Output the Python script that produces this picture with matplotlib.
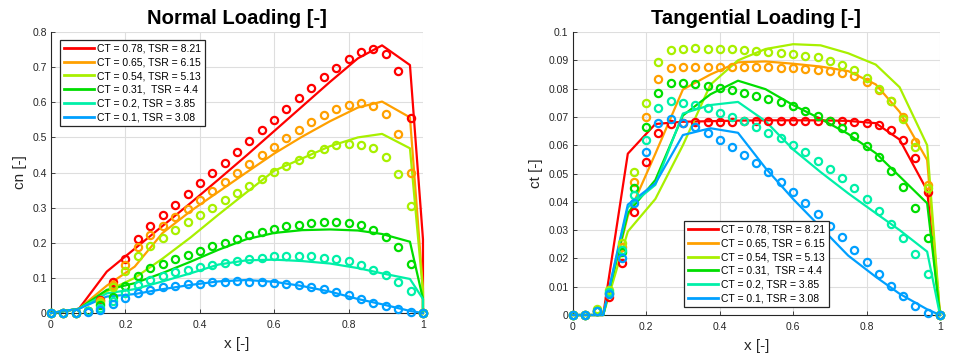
import matplotlib
matplotlib.use("Agg")
import matplotlib.pyplot as plt
from matplotlib.lines import Line2D

plt.rcParams['font.family'] = ['Liberation Sans', 'DejaVu Sans']

labels = ["CT = 0.78, TSR = 8.21", "CT = 0.65, TSR = 6.15", "CT = 0.54, TSR = 5.13",
          "CT = 0.31,  TSR = 4.4", "CT = 0.2, TSR = 3.85", "CT = 0.1, TSR = 3.08"]
colors = ["#ff0000", "#ffa000", "#a8f000", "#00dd00", "#00f0a8", "#00a0ff"]

# measured stations
x_pts = [0, 0.033, 0.067, 0.1, 0.133, 0.167, 0.2, 0.233, 0.267, 0.3, 0.333, 0.367, 0.4,
         0.433, 0.467, 0.5, 0.533, 0.567, 0.6, 0.633, 0.667, 0.7, 0.733, 0.767, 0.8,
         0.833, 0.867, 0.9, 0.933, 0.967, 1.0]

cn_pts = [
    [0, 0, 0, 0.005, 0.038, 0.087, 0.154, 0.21, 0.249, 0.28, 0.309, 0.339, 0.369, 0.398, 0.428,
     0.458, 0.489, 0.52, 0.55, 0.581, 0.612, 0.642, 0.672, 0.699, 0.724, 0.743, 0.751, 0.738,
     0.688, 0.555, 0],
    [0, 0, 0, 0.005, 0.033, 0.081, 0.136, 0.188, 0.222, 0.249, 0.273, 0.297, 0.323, 0.348, 0.374,
     0.399, 0.423, 0.449, 0.474, 0.498, 0.522, 0.543, 0.563, 0.581, 0.592, 0.597, 0.59, 0.567,
     0.51, 0.399, 0],
    [0, 0, 0, 0.005, 0.028, 0.073, 0.119, 0.163, 0.192, 0.215, 0.237, 0.258, 0.279, 0.299, 0.321,
     0.341, 0.361, 0.382, 0.402, 0.42, 0.437, 0.454, 0.467, 0.477, 0.482, 0.479, 0.469, 0.443,
     0.396, 0.304, 0],
    [0, 0, 0, 0.005, 0.024, 0.045, 0.078, 0.106, 0.127, 0.139, 0.153, 0.165, 0.178, 0.19, 0.2,
     0.212, 0.222, 0.232, 0.24, 0.247, 0.252, 0.256, 0.259, 0.259, 0.256, 0.25, 0.237, 0.216,
     0.188, 0.139, 0],
    [0, 0, 0, 0.005, 0.014, 0.035, 0.057, 0.081, 0.095, 0.106, 0.116, 0.123, 0.131, 0.137, 0.143,
     0.149, 0.155, 0.158, 0.161, 0.163, 0.163, 0.162, 0.158, 0.155, 0.147, 0.136, 0.123, 0.108,
     0.088, 0.062, 0],
    [0, 0, 0, 0.003, 0.009, 0.027, 0.043, 0.057, 0.066, 0.074, 0.078, 0.082, 0.084, 0.087, 0.089,
     0.09, 0.089, 0.088, 0.086, 0.083, 0.08, 0.075, 0.068, 0.061, 0.051, 0.041, 0.03, 0.021,
     0.011, 0.004, 0],
]

ct_pts = [
    [0, 0, 0.0015, 0.0062, 0.0183, 0.0365, 0.054, 0.0644, 0.0675, 0.068, 0.0683, 0.0683, 0.0683,
     0.0683, 0.0685, 0.0685, 0.0685, 0.0685, 0.0685, 0.0686, 0.0686, 0.0685, 0.0684, 0.0683,
     0.068, 0.067, 0.0653, 0.0617, 0.0555, 0.0435, 0],
    [0, 0, 0.0015, 0.0075, 0.0240, 0.047, 0.070, 0.0833, 0.0872, 0.0877, 0.0878, 0.0878, 0.0878,
     0.0877, 0.0877, 0.0876, 0.0875, 0.0874, 0.0872, 0.087, 0.0866, 0.0861, 0.0855, 0.0845,
     0.0822, 0.0795, 0.0755, 0.070, 0.061, 0.046, 0],
    [0, 0, 0.002, 0.009, 0.0254, 0.0506, 0.075, 0.0894, 0.0935, 0.0941, 0.0942, 0.0941, 0.094,
     0.094, 0.0935, 0.0933, 0.093, 0.0927, 0.0924, 0.0917, 0.091, 0.0898, 0.0885, 0.0865,
     0.0839, 0.080, 0.0757, 0.0691, 0.0595, 0.045, 0],
    [0, 0, 0.0015, 0.0078, 0.0224, 0.0448, 0.0665, 0.0785, 0.082, 0.0821, 0.0815, 0.0808, 0.0803,
     0.0794, 0.0785, 0.0774, 0.0765, 0.0753, 0.0738, 0.0721, 0.0704, 0.0686, 0.0662, 0.0632,
     0.0598, 0.0559, 0.051, 0.0451, 0.0377, 0.0271, 0],
    [0, 0, 0.0015, 0.008, 0.0228, 0.0424, 0.0618, 0.073, 0.0757, 0.075, 0.0741, 0.073, 0.0714,
     0.070, 0.0685, 0.0665, 0.0644, 0.0624, 0.060, 0.0575, 0.0545, 0.0516, 0.0485, 0.045,
     0.041, 0.0368, 0.0322, 0.0271, 0.0216, 0.0146, 0],
    [0, 0, 0.0013, 0.0074, 0.0201, 0.0395, 0.0577, 0.0677, 0.0694, 0.0679, 0.0665, 0.0642, 0.0618,
     0.0595, 0.0565, 0.0536, 0.0504, 0.0471, 0.0434, 0.0397, 0.0357, 0.0316, 0.0274, 0.023,
     0.0187, 0.0145, 0.0103, 0.0066, 0.0031, 0.0007, 0],
]

# model stations
x_cn_line = [0, 0.075, 0.15, 0.225, 0.3, 0.375, 0.45, 0.525, 0.6, 0.675, 0.75, 0.825, 0.89,
             0.965, 1.0, 1.0]
cn_line = [
    [0, 0.012, 0.118, 0.183, 0.248, 0.313, 0.380, 0.448, 0.518, 0.588, 0.658, 0.725, 0.762, 0.706, 0.21, 0],
    [0, 0.012, 0.078, 0.132, 0.228, 0.290, 0.345, 0.400, 0.454, 0.502, 0.546, 0.585, 0.602, 0.557, 0.07, 0],
    [0, 0.012, 0.062, 0.100, 0.155, 0.215, 0.280, 0.343, 0.405, 0.440, 0.475, 0.500, 0.510, 0.469, 0.06, 0],
    [0, 0.012, 0.066, 0.085, 0.114, 0.146, 0.180, 0.210, 0.228, 0.236, 0.238, 0.235, 0.225, 0.203, 0.04, 0],
    [0, 0.012, 0.056, 0.068, 0.090, 0.113, 0.138, 0.150, 0.152, 0.148, 0.141, 0.128, 0.113, 0.097, 0.04, 0],
    [0, 0.012, 0.047, 0.054, 0.068, 0.080, 0.090, 0.094, 0.089, 0.077, 0.061, 0.040, 0.025, 0.006, 0.0, 0],
]

x_ct_line = [0, 0.083, 0.15, 0.225, 0.3, 0.375, 0.45, 0.525, 0.6, 0.675, 0.75, 0.825, 0.89,
             0.965, 1.0]
ct_line = [
    [0, 0, 0.057, 0.0675, 0.0683, 0.0685, 0.0687, 0.0688, 0.0688, 0.0688, 0.0686, 0.0678, 0.062, 0.044, 0],
    [0, 0, 0.035, 0.057, 0.0797, 0.085, 0.0893, 0.0896, 0.0888, 0.0878, 0.0862, 0.0815, 0.0718, 0.0548, 0],
    [0, 0, 0.0295, 0.041, 0.060, 0.0814, 0.090, 0.094, 0.0957, 0.0953, 0.0925, 0.0885, 0.0805, 0.060, 0],
    [0, 0, 0.036, 0.0477, 0.0705, 0.078, 0.0828, 0.0798, 0.0742, 0.0693, 0.064, 0.0572, 0.049, 0.0395, 0],
    [0, 0, 0.038, 0.046, 0.0712, 0.0742, 0.0753, 0.0685, 0.0585, 0.0505, 0.043, 0.036, 0.030, 0.0224, 0],
    [0, 0, 0.039, 0.0465, 0.0636, 0.066, 0.0644, 0.0519, 0.041, 0.031, 0.021, 0.0135, 0.0075, 0.002, 0],
]

cn_ticks = [0, 0.1, 0.2, 0.3, 0.4, 0.5, 0.6, 0.7, 0.8]
ct_ticks = [0, 0.01, 0.02, 0.03, 0.04, 0.05, 0.06, 0.07, 0.08, 0.09, 0.1]
x_ticks = [0, 0.2, 0.4, 0.6, 0.8, 1]

fig = plt.figure(figsize=(9.55, 3.64), dpi=100)
ax1 = fig.add_axes([0.0534, 0.140, 0.3895, 0.772])
ax2 = fig.add_axes([0.5997, 0.1346, 0.3846, 0.7774])


def style(ax, yticks, ylim, ylabel, title):
    ax.set_xlim(0, 1)
    ax.set_ylim(*ylim)
    ax.set_xticks(x_ticks)
    ax.set_xticklabels([f"{t:g}" for t in x_ticks])
    ax.set_yticks(yticks)
    ax.set_yticklabels([f"{t:g}" for t in yticks])
    ax.grid(True, color="#dedede", linewidth=0.8)
    ax.set_axisbelow(True)
    for s in ["top", "right"]:
        ax.spines[s].set_visible(False)
    for s in ["left", "bottom"]:
        ax.spines[s].set_color("#262626")
        ax.spines[s].set_linewidth(0.8)
    ax.tick_params(direction="in", length=3, width=0.6, labelsize=7.5,
                   colors="#262626", pad=3)
    ax.tick_params(axis="x", pad=5)
    ax.set_xlabel("x [-]", fontsize=11, color="#262626", labelpad=5)
    ax.set_ylabel(ylabel, fontsize=11, color="#262626", labelpad=4)
    ax.set_title(title, fontsize=14.6, fontweight="bold", pad=6)


for i in range(6):
    ax1.plot(x_cn_line, cn_line[i], color=colors[i], lw=1.6, clip_on=False, zorder=3)
    ax1.plot(x_pts, cn_pts[i], "o", color=colors[i], mfc="none", ms=5.2, mew=1.6,
             clip_on=False, zorder=4)
    ax2.plot(x_ct_line, ct_line[i], color=colors[i], lw=1.6, clip_on=False, zorder=3)
    ax2.plot(x_pts, ct_pts[i], "o", color=colors[i], mfc="none", ms=5.2, mew=1.6,
             clip_on=False, zorder=4)

style(ax1, cn_ticks, (0, 0.8), "cn [-]", "Normal Loading [-]")
style(ax2, ct_ticks, (0, 0.1), "ct [-]", "Tangential Loading [-]")

handles = [Line2D([], [], color=c, lw=2) for c in colors]
leg_kw = dict(fontsize=7.5, handlelength=2.9, handletextpad=0.3, labelspacing=0.36,
              borderpad=0.35, borderaxespad=0, fancybox=False, framealpha=1,
              edgecolor="#262626")
l1 = ax1.legend(handles, labels, loc="upper left", bbox_to_anchor=(0.024, 0.972), **leg_kw)
l2 = ax2.legend(handles, labels, loc="lower center", bbox_to_anchor=(0.50, 0.028), **leg_kw)
for lg in (l1, l2):
    lg.get_frame().set_linewidth(0.9)
    lg.set_zorder(10)

fig.savefig("out.png", dpi=100, facecolor="white")
